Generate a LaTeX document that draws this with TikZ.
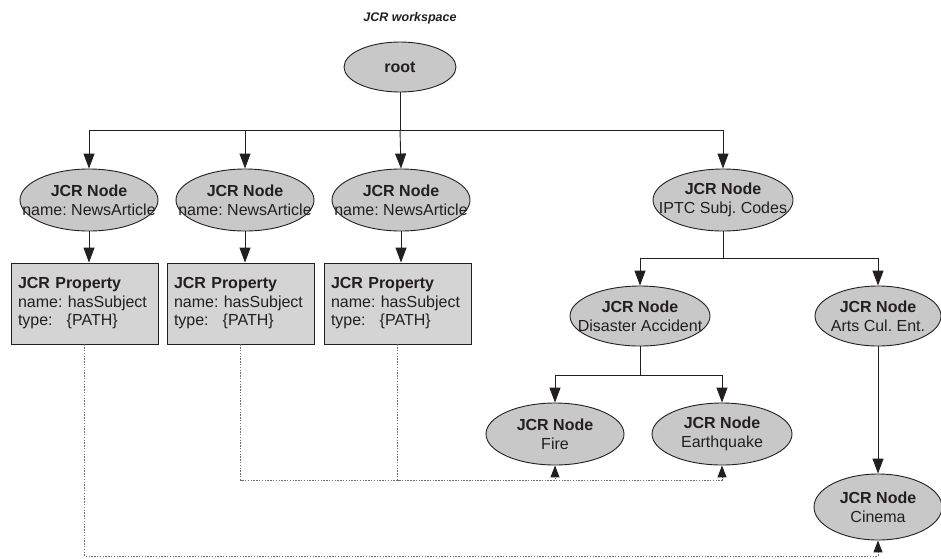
\documentclass[tikz,border=0pt]{standalone}
\usepackage{fontspec}
\setmainfont{Liberation Sans}
\usetikzlibrary{shapes.geometric,arrows.meta}
\frenchspacing

\definecolor{ink}{HTML}{231F20}
\definecolor{ovalfill}{HTML}{C8C8C9}
\definecolor{boxfill}{HTML}{D4D4D4}
\definecolor{dotgray}{HTML}{6E6E6E}

\tikzset{
  every node/.style={text=ink},
  oval/.style 2 args={ellipse, draw=ink, line width=0.9pt, fill=ovalfill,
    minimum width=#1, minimum height=#2, inner sep=0pt},
  ovaltext/.style={align=center, font=\fontsize{16}{19}\selectfont, inner sep=0pt},
  propbox/.style={rectangle, draw=ink, line width=0.9pt, fill=boxfill,
    minimum width=147pt, minimum height=81pt, text width=133pt, inner xsep=7pt,
    align=left, font=\fontsize{16}{18.5}\selectfont},
  arr/.style={draw=ink, line width=0.9pt,
    -{Triangle[length=15pt,width=11pt,color=ink]}},
  ptr/.style={draw=dotgray, line width=1pt, dash pattern=on 1.4pt off 1.4pt,
    -{Triangle[length=12pt,width=9pt,color=ink]}}
}

\newcommand{\jcrnode}[1]{\textbf{JCR Node}\\#1}
\newcommand{\jcrprop}{\textbf{JCR Property}\\name: hasSubject\\type:\hspace{14pt}\{PATH\}}

\begin{document}
\begin{tikzpicture}[x=1pt,y=-1pt]
  \useasboundingbox (0,0) rectangle (941,558);

  % title
  \node[font=\fontsize{12.5}{14}\selectfont\bfseries\itshape] (title) at (410,18) {JCR workspace};

  % root and first level
  \node[oval={112pt}{50pt}, label={[ovaltext,font=\fontsize{16}{19}\selectfont\bfseries]center:root}] (root) at (400,67) {};
  \node[oval={138pt}{62pt}, label={[ovaltext]center:\jcrnode{name: NewsArticle}}] (n1) at (89,200) {};
  \node[oval={138pt}{62pt}, label={[ovaltext]center:\jcrnode{name: NewsArticle}}] (n2) at (245,200) {};
  \node[oval={138pt}{62pt}, label={[ovaltext]center:\jcrnode{name: NewsArticle}}] (n3) at (401,200) {};
  \node[oval={140pt}{62pt}, label={[ovaltext]center:\jcrnode{IPTC Subj. Codes}}] (iptc) at (723,200) {};

  % properties
  \node[propbox] (p1) at (84.5,303.5) {\jcrprop};
  \node[propbox] (p2) at (240.5,303.5) {\jcrprop};
  \node[propbox] (p3) at (397.5,303.5) {\jcrprop};

  % subject code tree
  \node[oval={140pt}{60pt}, label={[ovaltext]center:\jcrnode{Disaster Accident}}] (dis) at (640,316) {};
  \node[oval={126pt}{60pt}, label={[ovaltext]center:\jcrnode{Arts Cul. Ent.}}] (arts) at (878,316) {};
  \node[oval={138pt}{62pt}, label={[ovaltext]center:\jcrnode{Fire}}] (fire) at (555,434) {};
  \node[oval={140pt}{62pt}, label={[ovaltext]center:\jcrnode{Earthquake}}] (quake) at (722,434) {};
  \node[oval={128pt}{66pt}, label={[ovaltext]center:\jcrnode{Cinema}}] (cin) at (878,507) {};

  % bus points
  \coordinate (bus0) at (400,130);
  \coordinate (bus1) at (723,258);
  \coordinate (bus2) at (640,375);
  \coordinate (d1) at (84.5,556);
  \coordinate (d2) at (240.5,480);
  \coordinate (d3) at (397.5,480);

  % hierarchy connectors
  \draw[arr] (root.south) -- (bus0) -| (n1.north);
  \draw[arr] (bus0) -| (n2.north);
  \draw[arr] (bus0) -- (n3.north);
  \draw[arr] (bus0) -| (iptc.north);
  \draw[arr] (n1.south) -- (n1.south |- p1.north);
  \draw[arr] (n2.south) -- (n2.south |- p2.north);
  \draw[arr] (n3.south) -- (n3.south |- p3.north);
  \draw[arr] (iptc.south) -- (bus1) -| (dis.north);
  \draw[arr] (bus1) -| (arts.north);
  \draw[arr] (dis.south) -- (bus2) -| (fire.north);
  \draw[arr] (bus2) -| (quake.north);
  \draw[arr] (arts.south) -- (cin.north);

  % path references
  \draw[ptr] (p1.south) -- (d1) -| (cin.south);
  \draw[ptr] (p2.south) -- (d2) -| (fire.south);
  \draw[ptr] (p3.south) -- (d3) -| (quake.south);
\end{tikzpicture}
\end{document}
